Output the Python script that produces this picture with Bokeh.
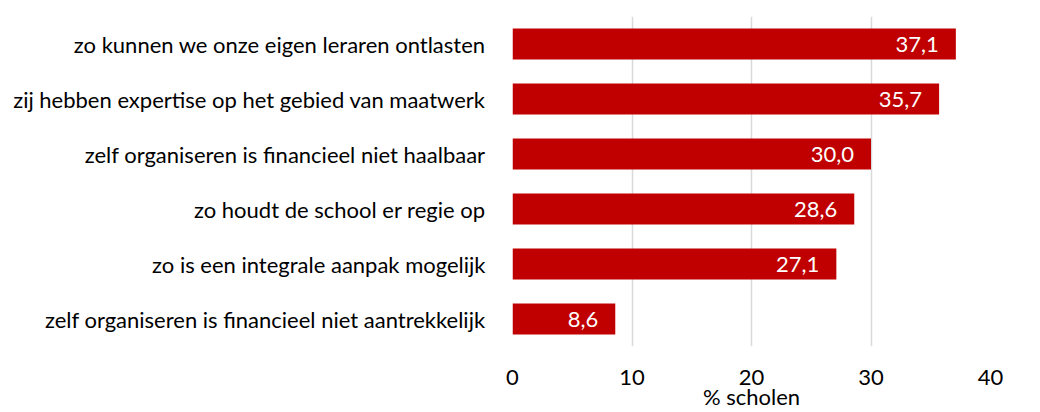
from bokeh.plotting import figure
from bokeh.models import Range1d, FactorRange, ColumnDataSource, LabelSet, FixedTicker
from bokeh.core.properties import value
from bokeh.embed import file_html
from bokeh.resources import INLINE

categories = [
    "zo kunnen we onze eigen leraren ontlasten",
    "zij hebben expertise op het gebied van maatwerk",
    "zelf organiseren is financieel niet haalbaar",
    "zo houdt de school er regie op",
    "zo is een integrale aanpak mogelijk",
    "zelf organiseren is financieel niet aantrekkelijk",
]
values = [37.1, 35.7, 30.0, 28.6, 27.1, 8.6]
x_ticks = [0, 10, 20, 30, 40]
x_title = "% scholen"

FONT = "Lato"
FS = "22px"
labels = [f"{v:.1f}".replace(".", ",") for v in values]
src = ColumnDataSource(dict(cat=categories, val=values, lab=labels))

p = figure(
    width=1024, height=412,
    y_range=FactorRange(*reversed(categories), range_padding=0.0),
    x_range=Range1d(0, 40),
    output_backend="svg", toolbar_location=None,
    min_border_left=512, min_border_right=34, min_border_top=16, min_border_bottom=64,
)
p.outline_line_color = None
p.background_fill_color = "white"

p.hbar(y="cat", right="val", left=0, height=0.56, source=src,
       fill_color="#C00000", line_color=None)

p.add_layout(LabelSet(x="val", y="cat", text="lab", source=src,
                      x_offset=-17, text_align="right", text_baseline="middle",
                      text_color="white", text_font=value(FONT), text_font_size=FS))

p.xaxis.ticker = FixedTicker(ticks=x_ticks)
p.xaxis.axis_line_color = None
p.xaxis.major_tick_line_color = None
p.xaxis.minor_tick_line_color = None
p.xaxis.major_label_text_font = FONT
p.xaxis.major_label_text_font_size = FS
p.xaxis.major_label_text_color = "#000000"
p.xaxis.major_label_standoff = 17
p.xaxis.axis_label = x_title
p.xaxis.axis_label_text_font = FONT
p.xaxis.axis_label_text_font_size = FS
p.xaxis.axis_label_text_font_style = "normal"
p.xaxis.axis_label_text_color = "#000000"
p.xaxis.axis_label_standoff = -5

p.yaxis.axis_line_color = None
p.yaxis.major_tick_line_color = None
p.yaxis.minor_tick_line_color = None
p.yaxis.major_label_text_font = FONT
p.yaxis.major_label_text_font_size = FS
p.yaxis.major_label_text_color = "#000000"
p.yaxis.major_label_standoff = 21

p.ygrid.grid_line_color = None
p.xgrid.grid_line_color = "#D9D9D9"
p.xgrid.grid_line_width = 1.5

open("out.html", "w").write(file_html(p, INLINE))
